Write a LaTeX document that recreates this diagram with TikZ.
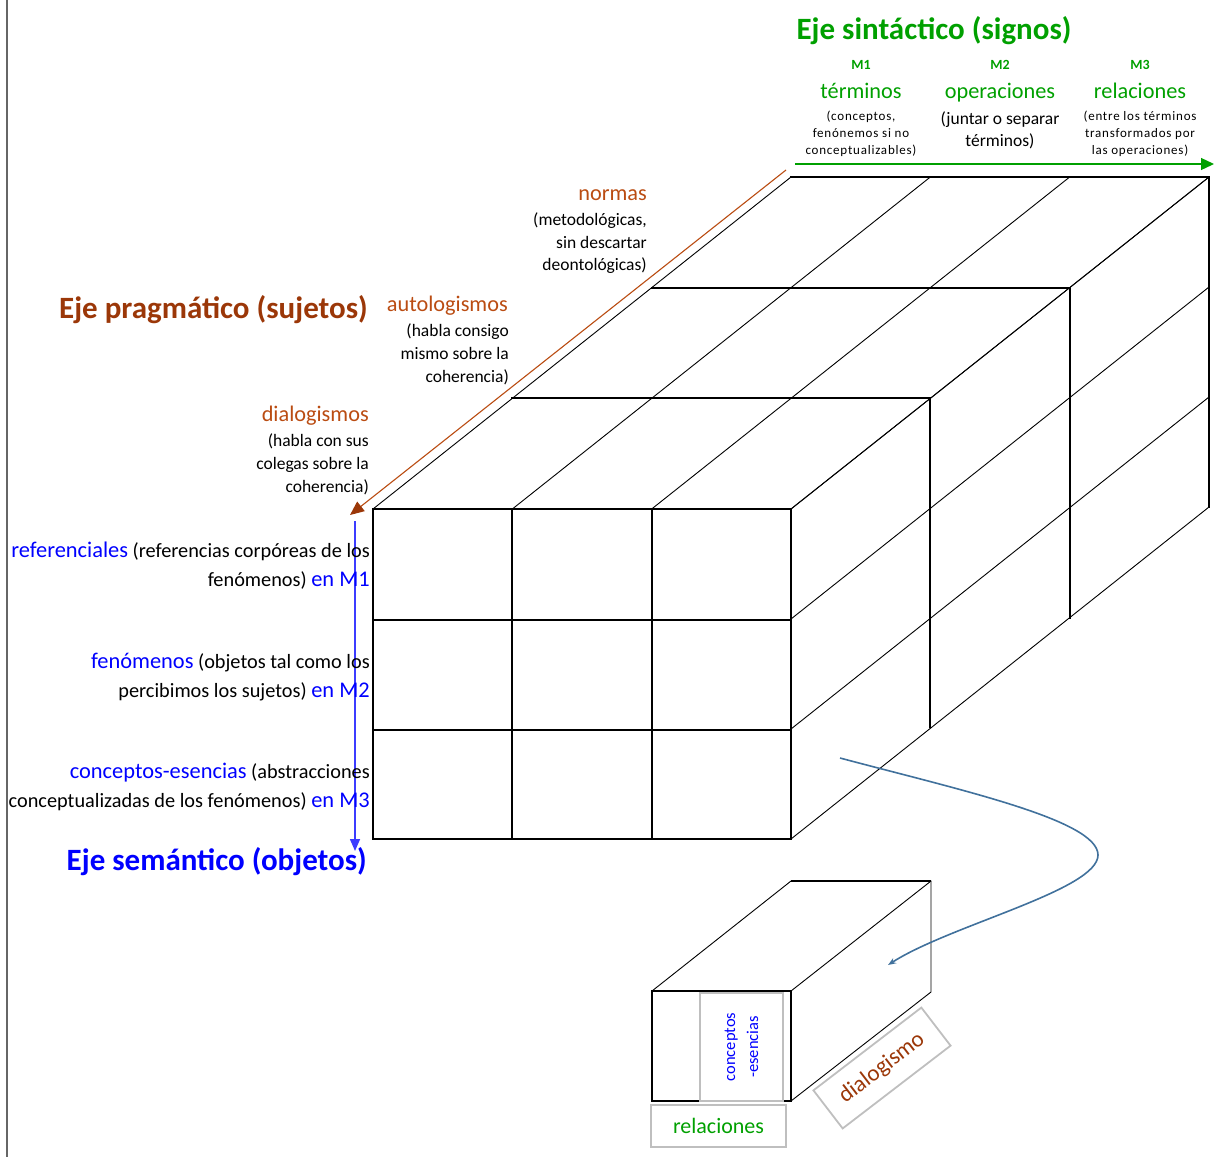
\documentclass[tikz,border=0pt]{standalone}
\usepackage{fontspec}
\setmainfont{Carlito}
\usetikzlibrary{arrows.meta}
\definecolor{sgreen}{RGB}{0,160,0}
\definecolor{sblue}{RGB}{0,0,255}
\definecolor{ablue}{RGB}{60,60,255}
\definecolor{pbrown}{RGB}{186,76,18}
\definecolor{hbrown}{RGB}{155,55,8}
\definecolor{cblue}{RGB}{65,113,156}
\definecolor{bgray}{RGB}{191,191,191}
\newcommand\bluepart[1]{{\color{sblue}\fontsize{22.4}{24}\selectfont #1}}
\begin{document}
\begin{tikzpicture}[x=1pt,y=-1pt,
  hdg/.style={inner sep=0pt, font=\fontsize{31}{36}\selectfont\bfseries},
  med/.style={inner sep=0pt, font=\fontsize{22.3}{26}\selectfont},
  sm/.style={inner sep=0pt, font=\fontsize{17.5}{21}\selectfont},
  tinyt/.style={inner sep=0pt, font=\fontsize{13}{16}\selectfont\addfontfeature{LetterSpace=6}},
  mlab/.style={inner sep=0pt, font=\fontsize{14}{16}\selectfont\bfseries, text=sgreen},
  lft/.style={inner sep=0pt, font=\fontsize{20.3}{24}\selectfont, anchor=base east},
  thickl/.style={line width=2.3pt, line cap=rect},
  thinl/.style={line width=0.9pt},
  gbox/.style={draw=bgray, line width=1.8pt, inner sep=0pt}]
\useasboundingbox (0,0) rectangle (1225,1157);
% left border
\draw[black!60, line width=1.3pt] (7,0) -- (7,1157);

% ---- big cube ----
\foreach \i in {0,1,2,3} {
  \draw[thinl] ({373+139.33*\i},509) -- ({791+139.33*\i},177);
  \draw[thinl] (791,{509+110*\i}) -- (1209,{177+110*\i});
}
\draw[thickl] (512,398) -- (930,398);
\draw[line width=1.1pt] (930,398) -- (930,728);
\draw[thickl] (652,288) -- (1070,288) -- (1070,618);
\draw[thickl] (791,177) -- (1209,177) -- (1209,507);
\draw[thickl] (373,509) rectangle (791,839);
\draw[thickl] (512,509) -- (512,839) (652,509) -- (652,839);
\draw[thickl] (373,620) -- (791,620) (373,730) -- (791,730);

% ---- axes ----
\coordinate (gS) at (795,164);
\coordinate (gE) at (1214,164);
\draw[sgreen, line width=1.3pt, -{Triangle[length=13pt,width=12pt]}] (gS) -- (gE);
\coordinate (oS) at (786,170);
\coordinate (oE) at (350,515);
\draw[pbrown, line width=1.1pt, -{Triangle[length=14pt,width=12pt,color=hbrown,fill=hbrown]}] (oS) -- (oE);
\coordinate (bS) at (355,521);
\coordinate (bE) at (355,851);
\draw[ablue, line width=1.5pt, -{Triangle[length=12pt,width=10pt]}] (bS) -- (bE);

% ---- header texts ----
\node[hdg, text=sgreen, anchor=base] (sint) at (934,39) {Eje sintáctico (signos)};
\node[mlab, anchor=base] (m1) at (861,69) {M1};
\node[mlab, anchor=base] (m2) at (1000,69) {M2};
\node[mlab, anchor=base] (m3) at (1140,69) {M3};
\node[med, text=sgreen, anchor=base] (t1) at (861,98) {términos};
\node[med, text=sgreen, anchor=base] (t2) at (1000,98) {operaciones};
\node[med, text=sgreen, anchor=base] (t3) at (1140,98) {relaciones};
\node[tinyt, anchor=base] (a1) at (861,120) {(conceptos,};
\node[tinyt, anchor=base] (a2) at (861,137) {fenónemos si no};
\node[tinyt, anchor=base] (a3) at (861,154) {conceptualizables)};
\node[sm, anchor=base] (b1) at (1000,124) {(juntar o separar};
\node[sm, anchor=base] (b2) at (1000,146) {términos)};
\node[tinyt, anchor=base] (c1) at (1140,120) {(entre los términos};
\node[tinyt, anchor=base] (c2) at (1140,137) {transformados por};
\node[tinyt, anchor=base] (c3) at (1140,154) {las operaciones)};

% ---- pragmatic labels ----
\node[med, text=pbrown, anchor=base east] (nor) at (647,200) {normas};
\node[sm, anchor=base east] (nor1) at (647,225) {(metodológicas,};
\node[sm, anchor=base east] (nor2) at (647,248) {sin descartar};
\node[sm, anchor=base east] (nor3) at (647,270) {deontológicas)};
\node[med, text=pbrown, anchor=base east] (aut) at (508,311) {autologismos};
\node[sm, anchor=base east] (aut1) at (509,336) {(habla consigo};
\node[sm, anchor=base east] (aut2) at (509,359) {mismo sobre la};
\node[sm, anchor=base east] (aut3) at (509,382) {coherencia)};
\node[hdg, text=hbrown, anchor=base east] (prag) at (368,318) {Eje pragmático (sujetos)};
\node[med, text=pbrown, anchor=base east] (dia) at (369,421) {dialogismos};
\node[sm, anchor=base east] (dia1) at (369,446) {(habla con sus};
\node[sm, anchor=base east] (dia2) at (369,469) {colegas sobre la};
\node[sm, anchor=base east] (dia3) at (369,492) {coherencia)};

% ---- semantic labels ----
\node[lft] (r1) at (370,557) {\bluepart{referenciales} (referencias corpóreas de los};
\node[lft] (r2) at (370,586) {fenómenos) \bluepart{en M1}};
\node[lft] (f1) at (370,668) {\bluepart{fenómenos} (objetos tal como los};
\node[lft] (f2) at (370,697) {percibimos los sujetos) \bluepart{en M2}};
\node[lft] (e1) at (370,778) {\bluepart{conceptos-esencias} (abstracciones};
\node[lft] (e2) at (370,807) {conceptualizadas de los fenómenos) \bluepart{en M3}};
\node[hdg, text=sblue, anchor=base east] (sem) at (367,870) {Eje semántico (objetos)};

% ---- small cube ----
\draw[thinl] (652,991) -- (791,881) -- (931,881) -- (931,992) -- (791,1101);
\draw[thinl] (791,991) -- (931,881);
\draw[line width=1.8pt] (791,881) -- (931,881);
\draw[line width=2pt] (652,991) rectangle (791,1101);
\node[gbox, minimum width=83pt, minimum height=108pt] (ce) at (741.5,1047) {};
\node[inner sep=0pt, rotate=90, align=center, text=sblue, font=\fontsize{16.5}{23}\selectfont] (cet) at (ce.center) {conceptos\\-esencias};
\node[gbox, minimum width=135pt, minimum height=42pt, text=sgreen, font=\fontsize{22}{26}\selectfont] (rel) at (718.5,1126) {relaciones};
\node[gbox, minimum width=136pt, minimum height=48pt, rotate=37.5, text=hbrown, font=\fontsize{23}{26}\selectfont] (dlg) at (882,1068) {dialogismo};

% ---- curved connector ----
\coordinate (cS) at (840,758);
\coordinate (cM) at (1098,855);
\coordinate (cE) at (888,965);
\draw[cblue, line width=1.6pt, -{Stealth[length=8pt,width=6pt]}] (cS) .. controls (960,790) and (1098,820) .. (cM) .. controls (1098,890) and (950,925) .. (cE);
\end{tikzpicture}
\end{document}
